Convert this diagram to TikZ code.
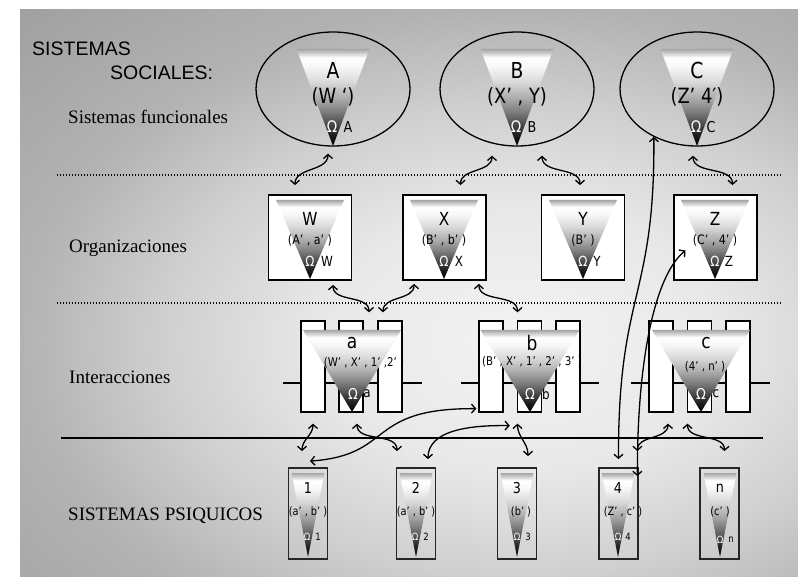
\documentclass[tikz,border=0pt]{standalone}
\usepackage{fontspec}
\setmainfont{Liberation Serif}
\newfontfamily\capsfont{Liberation Sans}
\newfontfamily\conefont[FakeStretch=0.85]{DejaVu Sans}
\usetikzlibrary{shapes.geometric,arrows.meta}

\pgfdeclareverticalshading{conefill}{100bp}{color(0bp)=(black); color(25bp)=(black); color(30bp)=(black!90); color(36bp)=(black!72); color(43bp)=(black!50); color(50bp)=(black!32); color(58bp)=(black!15); color(66bp)=(black!3); color(70.5bp)=(white); color(73bp)=(black!20); color(75bp)=(black!35); color(100bp)=(black!35)}
\pgfdeclareradialshading{backdrop}{\pgfpointorigin}{color(0bp)=(black!5); color(10bp)=(black!9); color(18bp)=(black!19); color(25bp)=(black!30); color(35bp)=(black!37); color(50bp)=(black!37)}

% cone: centre x, top y, width, apex y
\newcommand{\cone}[4]{\shade[shading=conefill] ({#1-#3/2},#2) -- ({#1+#3/2},#2) -- (#1,#4) -- cycle;}

\tikzset{
  ell/.style={draw, ellipse, line width=1.3pt, minimum width=154pt, minimum height=114pt},
  orgbox/.style={draw, fill=white, line width=1.8pt, minimum width=83pt, minimum height=85pt},
  slot/.style={draw, fill=white, line width=1.3pt, minimum width=24pt, minimum height=91pt},
  psybox/.style={draw=black!85, line width=1.8pt, minimum width=39pt, minimum height=91pt},
  head/.style={font=\capsfont\fontsize{19.5}{19.5}\selectfont, anchor=west, inner sep=0pt},
  lvl/.style={font=\fontsize{19}{19}\selectfont, anchor=west, inner sep=0pt},
  topname/.style={font=\conefont\fontsize{22}{22}\selectfont, inner sep=0pt},
  topsub/.style={font=\conefont\fontsize{21}{21}\selectfont, inner sep=0pt},
  topom/.style={font=\conefont\fontsize{16}{16}\selectfont, text=white, inner sep=0pt},
  toplab/.style={font=\conefont\fontsize{15}{15}\selectfont, inner sep=0pt},
  boxname/.style={font=\conefont\fontsize{18}{18}\selectfont, inner sep=0pt},
  boxsub/.style={font=\conefont\fontsize{13}{13}\selectfont, inner sep=0pt},
  boxom/.style={font=\conefont\fontsize{14}{14}\selectfont, text=white, inner sep=0pt},
  boxlab/.style={font=\conefont\fontsize{14}{14}\selectfont, inner sep=0pt},
  intname/.style={font=\conefont\fontsize{20}{20}\selectfont, inner sep=0pt},
  intsub/.style={font=\conefont\fontsize{12}{12}\selectfont, inner sep=0pt},
  intom/.style={font=\conefont\fontsize{15}{15}\selectfont, text=white, inner sep=0pt},
  intlab/.style={font=\conefont\fontsize{14}{14}\selectfont, inner sep=0pt},
  psyname/.style={font=\conefont\fontsize{15}{15}\selectfont, inner sep=0pt},
  psysub/.style={font=\conefont\fontsize{11.5}{11.5}\selectfont, inner sep=0pt},
  psyom/.style={font=\conefont\fontsize{10}{10}\selectfont, text=white, inner sep=0pt},
  psylab/.style={font=\conefont\fontsize{10}{10}\selectfont, inner sep=0pt},
  sep/.style={line width=1.5pt, dash pattern=on 1.2pt off 1.8pt},
  bar/.style={line width=2pt},
  link/.style={<->, >={Straight Barb[length=4pt,width=9pt]}, line width=1.3pt}
}

\begin{document}
\begin{tikzpicture}[x=1pt,y=-1pt]
\useasboundingbox (0,0) rectangle (798,577);
\fill[white] (0,0) rectangle (798,577);
\begin{scope}
\clip (6,9) rectangle (798,577);
\shade[shading=backdrop] (20,10) rectangle (1020,670);
\end{scope}

% level names
\node[head] (ss1) at (32,49) {SISTEMAS};
\node[head] (ss2) at (110,73) {SOCIALES:};
\node[lvl] (l1) at (68,117) {Sistemas funcionales};
\node[lvl] (l2) at (69,248) {Organizaciones};
\node[lvl] (l3) at (69,377) {Interacciones};
\node[lvl] (l4) at (68,516) {SISTEMAS PSIQUICOS};

% separators
\draw[sep] (57,175) -- (782,175);
\draw[sep] (57,303) -- (782,303);
\draw[bar, line width=2.5pt] (61,438) -- (763,438);

% functional systems
\node[ell] (A) at (333,89) {};
\cone{333}{49}{73}{146}
\node[topname] (A-n) at (333,70) {A};
\node[topsub] (A-s) at (333,97) {(W ‘)};
\node[topom] (A-o) at (332,127) {Ω};
\node[toplab] (A-l) at (348,127) {A};

\node[ell] (B) at (517,89) {};
\cone{517}{49}{73}{146}
\node[topname] (B-n) at (517,70) {B};
\node[topsub] (B-s) at (517,97) {(X’ , Y)};
\node[topom] (B-o) at (516,127) {Ω};
\node[toplab] (B-l) at (532,127) {B};

\node[ell] (C) at (697,89) {};
\cone{697}{49}{73}{146}
\node[topname] (C-n) at (697,70) {C};
\node[topsub] (C-s) at (697,97) {(Z’ 4′)};
\node[topom] (C-o) at (696,127) {Ω};
\node[toplab] (C-l) at (711,127) {C};

% organizations
\node[orgbox] (W) at (310,237.5) {};
\cone{310}{200}{68}{279}
\node[boxname] (W-n) at (310,219) {W};
\node[boxsub] (W-s) at (310,240) {(A’ , a’ )};
\node[boxom] (W-o) at (310,261) {Ω};
\node[boxlab] (W-l) at (327,261) {W};

\node[orgbox] (X) at (444.5,237.5) {};
\cone{444}{200}{68}{279}
\node[boxname] (X-n) at (444,219) {X};
\node[boxsub] (X-s) at (444,240) {(B’ , b’ )};
\node[boxom] (X-o) at (444,261) {Ω};
\node[boxlab] (X-l) at (459,261) {X};

\node[orgbox] (Y) at (583,237.5) {};
\cone{583}{200}{68}{279}
\node[boxname] (Y-n) at (583,219) {Y};
\node[boxsub] (Y-s) at (583,240) {(B’ )};
\node[boxom] (Y-o) at (583,261) {Ω};
\node[boxlab] (Y-l) at (597,261) {Y};

\node[orgbox] (Z) at (715.5,237.5) {};
\cone{715}{200}{68}{279}
\node[boxname] (Z-n) at (715,219) {Z};
\node[boxsub] (Z-s) at (715,240) {(C’ , 4’ )};
\node[boxom] (Z-o) at (715,261) {Ω};
\node[boxlab] (Z-l) at (729,261) {Z};

% interactions
\draw[bar] (283,383) -- (422,383);
\draw[bar] (461,383) -- (599,383);
\draw[bar] (631,383) -- (770,383);
\node[slot] (aL) at (313,366.5) {};
\node[slot] (aM) at (351,366.5) {};
\node[slot] (aR) at (390,366.5) {};
\node[slot] (bL) at (491,366.5) {};
\node[slot] (bM) at (529.5,366.5) {};
\node[slot] (bR) at (568,366.5) {};
\node[slot] (cL) at (661,366.5) {};
\node[slot] (cM) at (699.5,366.5) {};
\node[slot] (cR) at (738,366.5) {};

\cone{352}{330}{98}{412}
\node[intname] (a-n) at (352,343) {a};
\node[intsub] (a-s) at (364,363) {(W’ , X’ , 1’ ,2’ )};
\node[intom] (a-o) at (353,394) {Ω};
\node[intlab] (a-l) at (367,394) {a};

\cone{530}{330}{99}{412}
\node[intname] (b-n) at (532,343) {b};
\node[intsub] (b-s) at (532,362) {(B’ , X’ , 1’ , 2’ , 3’ )};
\node[intom] (b-o) at (530,394) {Ω};
\node[intlab] (b-l) at (546,394) {b};

\cone{701}{330}{98}{412}
\node[intname] (c-n) at (706,343) {c};
\node[intsub] (c-s) at (705,367) {(4’ , n’ )};
\node[intom] (c-o) at (701,394) {Ω};
\node[intlab] (c-l) at (716,394) {c};

% psychic systems
\node[psybox] (p1) at (308,513.5) {};
\cone{308}{473}{33}{557}
\node[psyname] (p1-n) at (308,488) {1};
\node[psysub] (p1-s) at (308,512) {(a’ , b’ )};
\node[psyom] (p1-o) at (307,537) {Ω};
\node[psylab] (p1-l) at (318,537) {1};

\node[psybox] (p2) at (416,513.5) {};
\cone{416}{473}{33}{557}
\node[psyname] (p2-n) at (416,488) {2};
\node[psysub] (p2-s) at (416,512) {(a’ , b’ )};
\node[psyom] (p2-o) at (415,537) {Ω};
\node[psylab] (p2-l) at (426,537) {2};

\node[psybox] (p3) at (517,513.5) {};
\cone{517}{473}{33}{557}
\node[psyname] (p3-n) at (517,488) {3};
\node[psysub] (p3-s) at (521,512) {(b’ )};
\node[psyom] (p3-o) at (517,537) {Ω};
\node[psylab] (p3-l) at (528,537) {3};

\node[psybox] (p4) at (618.5,513.5) {};
\cone{618}{473}{33}{557}
\node[psyname] (p4-n) at (618,488) {4};
\node[psysub] (p4-s) at (623,512) {(Z’ , c’ )};
\node[psyom] (p4-o) at (618,537) {Ω};
\node[psylab] (p4-l) at (628,537) {4};

\node[psybox] (pn) at (719.5,513.5) {};
\cone{720}{473}{33}{557}
\node[psyname] (pn-n) at (720,488) {n};
\node[psysub] (pn-s) at (720,512) {(c’ )};
\node[psyom] (pn-o) at (720,540) {Ω};
\node[psylab] (pn-l) at (731,540) {n};

% links
\draw[link] ([shift={(-5,7)}]A.south) to[out=-90,in=90] ([shift={(-15,-9)}]W.north);
\draw[link] ([shift={(-25,9)}]B.south) to[out=-90,in=90] ([shift={(16,-9)}]X.north);
\draw[link] ([shift={(25,9)}]B.south) to[out=-90,in=90] ([shift={(-3,-9)}]Y.north);
\draw[link] ([shift={(-4,9)}]C.south) to[out=-90,in=90] ([shift={(17,-9)}]Z.north);
\draw[link] (C.228) .. controls (655,300) and (618,290) .. ([shift={(0,-8)}]p4.north);
\draw[link] ([shift={(-30,13)}]Z.center) .. controls (655,275) and (637,360) .. ([shift={(-1.5,9)}]p4.north east);
\draw[link] ([shift={(23,4)}]W.south) to[out=-90,in=90] ([shift={(18,-8)}]aM.north);
\draw[link] ([shift={(12,3)}]X.south west) to[out=-90,in=90] ([shift={(-7,-8)}]aR.north);
\draw[link] ([shift={(-8,3)}]X.south east) to[out=-90,in=90] ([shift={(-12,-8)}]bM.north);
\draw[link] ([shift={(0,11)}]aL.south) to[out=-90,in=90] ([shift={(-6,-16)}]p1.north);
\draw[link] ([shift={(6,11)}]aM.south) to[out=-90,in=90] ([shift={(-19,-16)}]p2.north);
\draw[link] ([shift={(2,-6)}]p1.north) .. controls (395,455) and (365,408) .. ([shift={(-2,-4)}]bL.south west);
\draw[link] ([shift={(12,-8)}]p2.north) .. controls (428,430) and (470,425) .. ([shift={(-7,13)}]bM.south west);
\draw[link] ([shift={(-12,11)}]bM.south) to[out=-90,in=90] ([shift={(11,-11)}]p3.north);
\draw[link] ([shift={(7,11)}]cL.south) to[out=-90,in=90] ([shift={(-1.5,-16)}]p4.north east);
\draw[link] ([shift={(-12,11)}]cM.south) to[out=-90,in=90] ([shift={(5,-16)}]pn.north);
\end{tikzpicture}
\end{document}
